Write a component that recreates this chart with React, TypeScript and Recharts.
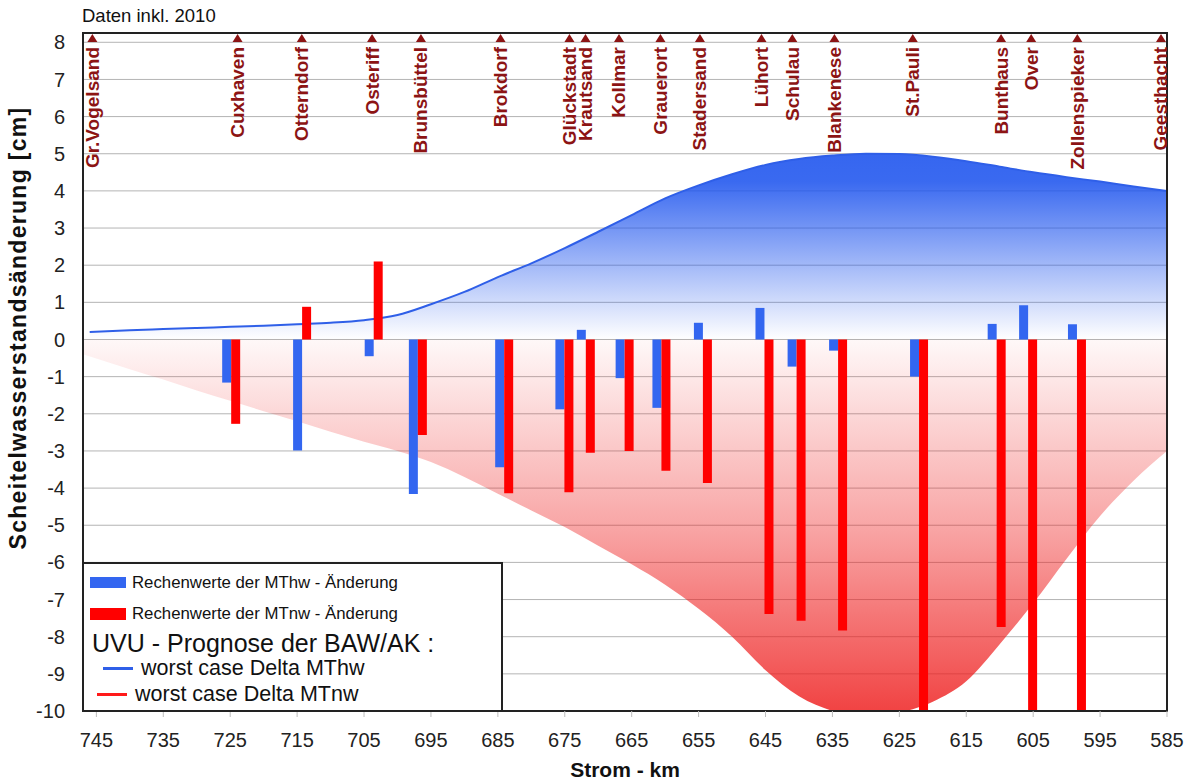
import React from "react";
import {
  ComposedChart,
  Area,
  Bar,
  Scatter,
  XAxis,
  YAxis,
  CartesianGrid,
  ReferenceArea,
} from "recharts";

const FONT = "'Liberation Sans', Arial, sans-serif";
const MARKER = "#8c1414";

// Strom-km axis (reversed, seaward left)
const kmTicks = [745, 735, 725, 715, 705, 695, 685, 675, 665, 655, 645, 635, 625, 615, 605, 595, 585];
const levelTicks = [-10, -9, -8, -7, -6, -5, -4, -3, -2, -1, 0, 1, 2, 3, 4, 5, 6, 7, 8];

// gauges along the Elbe
const stationNames = [
  "Gr.Vogelsand", "Cuxhaven", "Otterndorf", "Osteriff", "Brunsbüttel", "Brokdorf",
  "Glückstadt", "Krautsand", "Kollmar", "Grauerort", "Stadersand", "Lühort",
  "Schulau", "Blankenese", "St.Pauli", "Bunthaus", "Over", "Zollenspieker", "Geesthacht",
];
const stationKm = [
  745.6, 723.9, 714.3, 703.8, 696.5, 684.6, 674.3, 671.9, 666.9, 660.7,
  654.8, 645.6, 641.0, 634.7, 623.0, 609.8, 605.3, 598.4, 585.9,
];

// computed changes at the gauges [cm]
const gaugeKm = [
  724.9, 714.3, 703.6, 697.0, 684.1, 675.1, 671.9, 666.1, 660.6,
  654.4, 645.2, 640.4, 634.2, 622.1, 610.5, 605.8, 598.5,
];
const mthwChange = [
  -1.16, -2.99, -0.45, -4.16, -3.44, -1.88, 0.26, -1.04, -1.84,
  0.45, 0.85, -0.73, -0.3, -1.0, 0.42, 0.92, 0.41,
];
const mtnwChange = [
  -2.27, 0.88, 2.1, -2.57, -4.14, -4.11, -3.05, -3.0, -3.53,
  -3.86, -7.39, -7.57, -7.83, -10, -7.74, -10, -10,
];

// UVU worst case curves
const mthwCurveKm = [
  746, 740, 735, 730, 725, 720, 715, 710, 705, 700, 695, 690, 685, 680, 675, 670, 665,
  660, 655, 650, 645, 640, 635, 630, 625, 620, 615, 610, 605, 600, 595, 590, 585,
];
const mthwCurve = [
  0.2, 0.25, 0.28, 0.31, 0.34, 0.37, 0.41, 0.45, 0.52, 0.66, 0.95, 1.28, 1.68, 2.05, 2.46, 2.9, 3.35,
  3.8, 4.15, 4.45, 4.7, 4.86, 4.95, 5.0, 4.99, 4.92, 4.8, 4.65, 4.5, 4.37, 4.25, 4.12, 4.0,
];
const mtnwCurveKm = [
  747, 740, 735, 730, 725, 720, 715, 710, 705, 700, 695, 690, 685, 680, 675, 670, 665,
  660, 655, 650, 645, 640, 635, 630, 625, 620, 615, 610, 605, 600, 595, 590, 585,
];
const mtnwCurve = [
  -0.4, -0.8, -1.08, -1.37, -1.65, -1.93, -2.2, -2.48, -2.75, -3.0, -3.3, -3.7, -4.15, -4.6, -5.05, -5.55, -6.05,
  -6.6, -7.25, -8.0, -8.9, -9.6, -10.0, -10.25, -10.05, -9.75, -9.2, -8.2, -7.1, -5.9, -4.75, -3.8, -3.0,
];

const Y_MIN = -10;
const Y_MAX = 8.25;
const KM_DOMAIN: [number, number] = [585, 747];

const barData = gaugeKm.map((km, i) => ({ km, hw: mthwChange[i], nw: mtnwChange[i] }));
const hwCurveData = mthwCurveKm.map((km, i) => ({ km, value: mthwCurve[i] }));
const nwCurveData = mtnwCurveKm.map((km, i) => ({ km, value: mtnwCurve[i] }));
const stationData = stationKm.map((km, i) => ({ km, top: Y_MAX, name: stationNames[i] }));

const StationMarker = (props: any) => {
  const { cx, cy, payload } = props;
  const ty = cy + 14;
  return (
    <g>
      <polygon
        points={`${cx},${cy + 1} ${cx - 5},${cy + 9} ${cx + 5},${cy + 9}`}
        fill={MARKER}
      />
      <text
        x={cx}
        y={ty}
        transform={`rotate(-90 ${cx} ${ty})`}
        textAnchor="end"
        dominantBaseline="central"
        fontSize={19}
        fontWeight="bold"
        fontFamily={FONT}
        fill={MARKER}
      >
        {payload.name}
      </text>
    </g>
  );
};

// legend row text, vertically centred on `mid`
const legendText = (mid: number, left: number, size: number, text: string) => (
  <div
    style={{
      position: "absolute",
      left,
      top: mid - size * 0.49,
      fontSize: size,
      lineHeight: `${size}px`,
      whiteSpace: "nowrap",
      color: "#111",
    }}
  >
    {text}
  </div>
);

export default function App() {
  return (
    <div
      style={{
        position: "absolute",
        left: 0,
        top: 0,
        width: 1200,
        height: 781,
        background: "#fff",
        fontFamily: FONT,
      }}
    >
      <div style={{ position: "absolute", left: 82, top: 5, fontSize: 18.5, color: "#111" }}>
        Daten inkl. 2010
      </div>

      <ComposedChart
        width={1200}
        height={781}
        data={barData}
        margin={{ top: 33, right: 33, bottom: 0, left: 0 }}
        barGap={0}
        style={{ fontFamily: FONT }}
      >
        <defs>
          <linearGradient id="hwFill" x1="0" y1="0" x2="0" y2="1">
            <stop offset="0%" stopColor="#1f55ee" stopOpacity={0.9} />
            <stop offset="15%" stopColor="#1f55ee" stopOpacity={0.88} />
            <stop offset="100%" stopColor="#1f55ee" stopOpacity={0} />
          </linearGradient>
          <linearGradient id="nwFill" x1="0" y1="0" x2="0" y2="1">
            <stop offset="0%" stopColor="#ee1c1c" stopOpacity={0.03} />
            <stop offset="50%" stopColor="#ee1c1c" stopOpacity={0.4} />
            <stop offset="100%" stopColor="#ee1c1c" stopOpacity={0.85} />
          </linearGradient>
        </defs>

        <CartesianGrid xAxisId="bars" vertical={false} stroke="#b4b4b4" strokeWidth={1} />

        <XAxis
          xAxisId="bars"
          type="number"
          dataKey="km"
          domain={KM_DOMAIN}
          reversed
          allowDataOverflow
          ticks={kmTicks}
          interval={0}
          height={70}
          tickSize={6}
          tickMargin={16}
          tick={{ fontSize: 20, fill: "#222", fontFamily: FONT }}
          tickLine={{ stroke: "#bdbdbd" }}
          axisLine={{ stroke: "#222", strokeWidth: 2 }}
          label={() => (
            <text
              x={625}
              y={777}
              textAnchor="middle"
              fontSize={21}
              fontWeight="bold"
              fontFamily={FONT}
              fill="#111"
            >
              Strom - km
            </text>
          )}
        />
        <XAxis
          xAxisId="curve"
          type="number"
          dataKey="km"
          domain={KM_DOMAIN}
          reversed
          allowDataOverflow
          hide
        />
        <XAxis
          xAxisId="stations"
          type="number"
          dataKey="km"
          domain={KM_DOMAIN}
          reversed
          allowDataOverflow
          hide
        />
        <YAxis
          type="number"
          domain={[Y_MIN, Y_MAX]}
          ticks={levelTicks}
          interval={0}
          allowDataOverflow
          width={83}
          tickSize={0}
          tickMargin={18}
          tickLine={false}
          tick={{ fontSize: 20, fill: "#222", fontFamily: FONT }}
          axisLine={{ stroke: "#222", strokeWidth: 2 }}
          label={() => (
            <text
              x={18}
              y={328}
              transform="rotate(-90 18 328)"
              textAnchor="middle"
              dominantBaseline="central"
              fontSize={23}
              letterSpacing={1.3}
              fontWeight="bold"
              fontFamily={FONT}
              fill="#111"
            >
              Scheitelwasserstandsänderung [cm]
            </text>
          )}
        />

        <Area
          xAxisId="curve"
          data={nwCurveData}
          dataKey="value"
          type="monotone"
          stroke="none"
          fill="url(#nwFill)"
          fillOpacity={1}
          isAnimationActive={false}
        />
        <Area
          xAxisId="curve"
          data={hwCurveData}
          dataKey="value"
          type="monotone"
          stroke="#2f5fe8"
          strokeWidth={2}
          fill="url(#hwFill)"
          fillOpacity={1}
          isAnimationActive={false}
        />

        <Bar xAxisId="bars" dataKey="hw" fill="#3366f0" barSize={9} isAnimationActive={false} />
        <Bar xAxisId="bars" dataKey="nw" fill="#ff0000" barSize={9} isAnimationActive={false} />

        <Scatter
          xAxisId="stations"
          data={stationData}
          dataKey="top"
          shape={StationMarker}
          isAnimationActive={false}
        />

        <ReferenceArea
          xAxisId="curve"
          x1={KM_DOMAIN[1]}
          x2={KM_DOMAIN[0]}
          y1={Y_MIN}
          y2={Y_MAX}
          fill="none"
          stroke="#222"
          strokeWidth={2}
        />
      </ComposedChart>

      <div
        style={{
          position: "absolute",
          left: 82,
          top: 562,
          width: 421,
          height: 150,
          boxSizing: "border-box",
          border: "2px solid #222",
          background: "#fff",
        }}
      />
      <div style={{ position: "absolute", left: 90, top: 577, width: 36, height: 11, background: "#3366f0" }} />
      {legendText(583, 132, 16.8, "Rechenwerte der MThw - Änderung")}
      <div style={{ position: "absolute", left: 90, top: 608, width: 36, height: 12, background: "#ff0000" }} />
      {legendText(614, 132, 16.8, "Rechenwerte der MTnw - Änderung")}
      {legendText(643, 92, 25, "UVU - Prognose der BAW/AK :")}
      <div style={{ position: "absolute", left: 103, top: 667, width: 30, height: 2.5, background: "#2f5fe8" }} />
      {legendText(669, 141, 21.5, "worst case Delta MThw")}
      <div style={{ position: "absolute", left: 97, top: 693, width: 30, height: 2.5, background: "#ff1a1a" }} />
      {legendText(695, 135, 21.5, "worst case Delta MTnw")}
    </div>
  );
}
